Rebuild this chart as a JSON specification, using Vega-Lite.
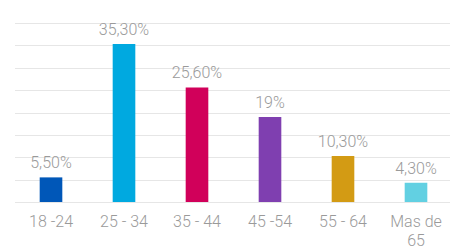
{
  "$schema": "https://vega.github.io/schema/vega-lite/v6.json",
  "width": 438,
  "height": 179,
  "autosize": "none",
  "padding": {"left": 14.5, "top": 23, "right": 0, "bottom": 50},
  "background": "white",
  "config": {"view": {"stroke": null}},
  "data": {
    "values": [
      {"grupo": "18 -24", "pct": 5.5, "etiqueta": "5,50%"},
      {"grupo": "25 - 34", "pct": 35.3, "etiqueta": "35,30%"},
      {"grupo": "35 - 44", "pct": 25.6, "etiqueta": "25,60%"},
      {"grupo": "45 -54", "pct": 19, "etiqueta": "19%"},
      {"grupo": "55 - 64", "pct": 10.3, "etiqueta": "10,30%"},
      {"grupo": "Mas de 65", "pct": 4.3, "etiqueta": "4,30%"}
    ]
  },
  "encoding": {
    "x": {
      "field": "grupo",
      "type": "nominal",
      "sort": null,
      "scale": {"paddingInner": 0.69, "paddingOuter": 0.345},
      "axis": {
        "title": null,
        "labelAngle": 0,
        "domain": false,
        "ticks": false,
        "labelFont": "Roboto",
        "labelFontWeight": 300,
        "labelFontSize": 16,
        "labelColor": "#9a9a9a",
        "labelPadding": 11,
        "labelLineHeight": 19,
        "labelExpr": "datum.value == 'Mas de 65' ? ['Mas de', '65'] : datum.value"
      }
    },
    "y": {
      "field": "pct",
      "type": "quantitative",
      "scale": {"domain": [0, 40]},
      "axis": {
        "title": null,
        "labels": false,
        "ticks": false,
        "domain": false,
        "values": [0, 5, 10, 15, 20, 25, 30, 35, 40],
        "gridColor": "#e6e6e6",
        "gridWidth": 1.2
      }
    }
  },
  "layer": [
    {
      "mark": {"type": "bar"},
      "encoding": {
        "color": {
          "field": "grupo",
          "type": "nominal",
          "sort": null,
          "legend": null,
          "scale": {"range": ["#0057b8", "#00a9e0", "#d1005a", "#7f3fb0", "#d39b14", "#62d0e2"]}
        }
      }
    },
    {
      "mark": {
        "type": "text",
        "baseline": "alphabetic",
        "dy": -9,
        "font": "Roboto",
        "fontWeight": 300,
        "fontSize": 16,
        "color": "#9a9a9a"
      },
      "encoding": {"text": {"field": "etiqueta"}}
    }
  ]
}
